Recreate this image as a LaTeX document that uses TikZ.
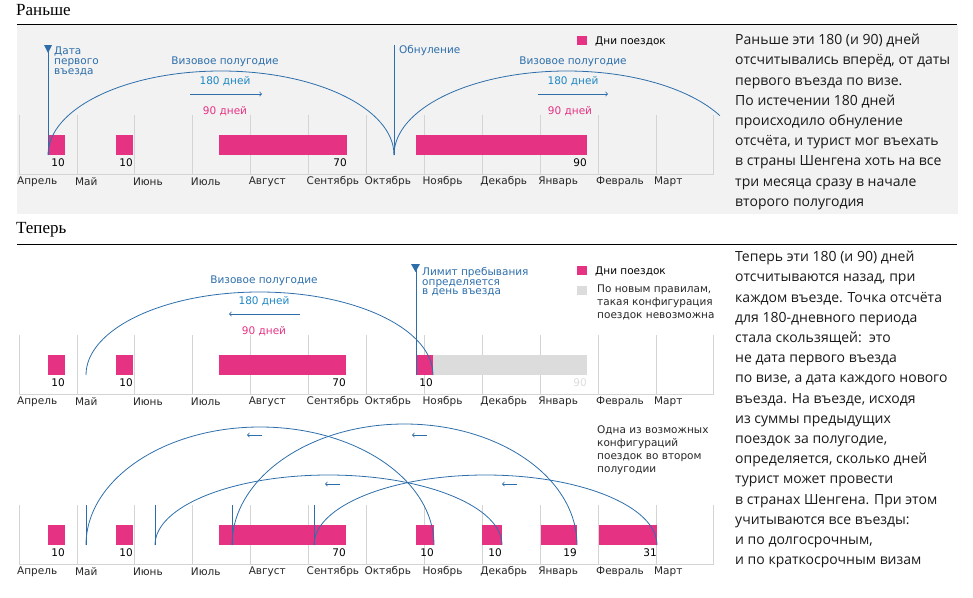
\documentclass[tikz,border=0pt]{standalone}
\usepackage{fontspec}
\setmainfont{Open Sans}
\newfontfamily\chartfont{DejaVu Sans}
\newfontfamily\headfont{Liberation Serif}
\usetikzlibrary{positioning, arrows}

\definecolor{tripred}{RGB}{230,50,130}
\definecolor{visablue}{RGB}{45,110,170}
\definecolor{daysblue}{RGB}{30,135,195}
\definecolor{panelgray}{RGB}{242,242,242}
\definecolor{gridgray}{RGB}{212,212,212}
\definecolor{nogray}{RGB}{220,220,220}

\tikzset{x=1pt, y=-1pt, % one unit is one pixel of the reference, y runs down
every node/.style={inner sep=0pt,
  font=\chartfont\fontsize{10.5}{12}\selectfont},
heading/.style={anchor=west, font=\headfont\fontsize{17}{20}\selectfont},
rule/.style={black, line width=1pt},
grid/.style={gridgray, line width=0.7pt},
month/.style={anchor=west, text=black!85},
trip/.style={fill=tripred},
num/.style={anchor=base east},
visa/.style={visablue, line width=0.8pt}, % the 180 day arcs and markers
pointer/.style={visa, ->, >={to[scale=1.4]}},
visalbl/.style={text=visablue},
dayslbl/.style={text=daysblue},
tripslbl/.style={text=tripred},
key/.style={minimum width=10pt, minimum height=9pt},
note/.style={anchor=north west, align=left, text=black!85,
  font=\chartfont\fontsize{10.5}{13}\selectfont},
marklbl/.style={anchor=north west, align=left, text=visablue,
  font=\chartfont\fontsize{10.5}{9.8}\selectfont},
story/.style={anchor=north west, align=left, text=black!90,
  font=\fontsize{14}{20.2}\selectfont}}

\begin{document}
\begin{tikzpicture}
\useasboundingbox (0,0) rectangle (973,597);

% ---- Раньше ----
\node[heading] (before) at (16,10) {Раньше};
\draw[rule] (17,24) -- (957,24);
\fill[panelgray] (17,25) rectangle (958,214);

% ---- Теперь ----
\node[heading] (now) at (16,230) {Теперь};
\draw[rule] (17,244) -- (957,244);

% month grid, one for each of the three timelines
\foreach \p/\yb in {t/174, m/394, b/564} {
  \draw[grid] (19,\yb) -- (714,\yb);
  \foreach \i in {0,...,12}
    \draw[grid] ({19+57.9*\i},\yb-59) -- ({19+57.9*\i},\yb);
  \foreach \m [count=\i from 0] in {Апрель,Май,Июнь,Июль,Август,Сентябрь,
      Октябрь,Ноябрь,Декабрь,Январь,Февраль,Март}
    \node[month] (\p-\i) at ({17+57.9*\i},\yb+8) {\m};
}

% trips
\foreach \a/\b/\n in {48/65/10, 116/133/10, 219/347/70, 416/587/90} {
  \fill[trip] (\a,135) rectangle (\b,155);
  \node[num] (tn-\b) at (\b,166) {\n};
}
\fill[nogray] (433,355) rectangle (587,375);
\node[num, text=nogray] (mn-587) at (587,386) {90};
\foreach \a/\b/\n in {48/65/10, 116/133/10, 219/346/70, 416/433/10} {
  \fill[trip] (\a,355) rectangle (\b,375);
  \node[num] (mn-\b) at (\b,386) {\n};
}
\foreach \a/\b/\n in {48/65/10, 116/133/10, 219/346/70, 416/434/10,
    482/502/10, 541/577/19, 599/657/31} {
  \fill[trip] (\a,525) rectangle (\b,545);
  \node[num] (bn-\b) at (\b,556) {\n};
}

% top: counted forward from the first entry
\coordinate (first) at (48,155);
\coordinate (firsttop) at (48,47);
\coordinate (reset) at (394,155);
\coordinate (resettop) at (394,45);
\draw[visa] (firsttop) -- (first);
\fill[visablue] (44,45) -- (52,45) -- (48,53) -- cycle;
\node[marklbl] (firstlbl) at (54,47) {Дата\\первого\\въезда};
\draw[visa] (resettop) -- (reset);
\node[visalbl, anchor=west] (resetlbl) at (399,51) {Обнуление};
\draw[visa] (first) arc[start angle=180, end angle=360, x radius=173, y radius=84];
\draw[visa] (reset) arc[start angle=180, end angle=332, x radius=173, y radius=84];

\node[visalbl] (half1) at (225,62) {Визовое полугодие};
\node[dayslbl] (d180a) at (225,81) {180 дней};
\coordinate (fa1) at (190,94);
\coordinate (fa2) at (262,94);
\draw[pointer] (fa1) -- (fa2);
\node[tripslbl] (d90a) at (225,111) {90 дней};

\node[visalbl] (half2) at (573,62) {Визовое полугодие};
\node[dayslbl] (d180b) at (573,81) {180 дней};
\coordinate (fb1) at (538,94);
\coordinate (fb2) at (608,94);
\draw[pointer] (fb1) -- (fb2);
\node[tripslbl] (d90b) at (570,111) {90 дней};

\node[key, fill=tripred] (key1) at (582,40) {};
\node[anchor=west] (key1lbl) at (595,41) {Дни поездок};

% middle: counted back from the day of entry
\coordinate (back) at (86,375);
\coordinate (entry) at (416,375);
\coordinate (entrytop) at (416,266);
\draw[visa] (back) arc[start angle=180, end angle=360, x radius=173.5, y radius=83];
\draw[visa] (entrytop) -- (entry);
\fill[visablue] (411,264) -- (420,264) -- (415.5,272) -- cycle;
\node[marklbl] (limitlbl) at (422,267) {Лимит пребывания\\определяется\\в день въезда};

\node[visalbl] (half3) at (264,281) {Визовое полугодие};
\node[dayslbl] (d180c) at (264,301) {180 дней};
\coordinate (ba1) at (300,314);
\coordinate (ba2) at (229,314);
\draw[pointer] (ba1) -- (ba2);
\node[tripslbl] (d90c) at (264,331) {90 дней};

\node[key, fill=tripred] (key2) at (582,270) {};
\node[anchor=west] (key2lbl) at (595,271) {Дни поездок};
\node[key, fill=nogray] (key3) at (582,290) {};
\node[note] (key3lbl) at (597,285) {По новым правилам,\\такая конфигурация\\поездок невозможна};

% bottom: one 180 day window for each later entry
\foreach \s/\rx/\ry in {86/174/118, 155/173.5/70, 232/172.5/121, 314/171.5/70} {
  \coordinate (w-\s) at (\s,545);
  \coordinate (wt-\s) at (\s,505);
  \draw[visa] (wt-\s) -- (w-\s);
  \draw[visa] (w-\s) arc[start angle=180, end angle=360, x radius=\rx, y radius=\ry];
}
\foreach \x/\y in {262/435, 427/435, 340/484, 517/484} {
  \coordinate (wa-\x) at (\x,\y);
  \coordinate (wb-\x) at (\x-15,\y);
  \draw[pointer] (wa-\x) -- (wb-\x);
}
\node[note] (onelbl) at (597,425) {Одна из возможных\\конфигураций\\поездок во втором\\полугодии};

% text on the right
\node[story] (storyold) at (735,34) {Раньше эти 180 (и 90) дней\\
отсчитывались вперёд, от даты\\первого въезда по визе.\\
По истечении 180 дней\\происходило обнуление\\
отсчёта, и турист мог въехать\\в страны Шенгена хоть на все\\
три месяца сразу в начале\\второго полугодия};
\node[story] (storynew) at (735,251) {Теперь эти 180 (и 90) дней\\
отсчитываются назад, при\\каждом въезде. Точка отсчёта\\
для 180-дневного периода\\стала скользящей:\ \ это\\
не дата первого въезда\\по визе, а дата каждого нового\\
въезда. На въезде, исходя\\из суммы предыдущих\\
поездок за полугодие,\\определяется, сколько дней\\
турист может провести\\в странах Шенгена. При этом\\
учитываются все въезды:\\и по долгосрочным,\\и по краткосрочным визам};
\end{tikzpicture}
\end{document}
